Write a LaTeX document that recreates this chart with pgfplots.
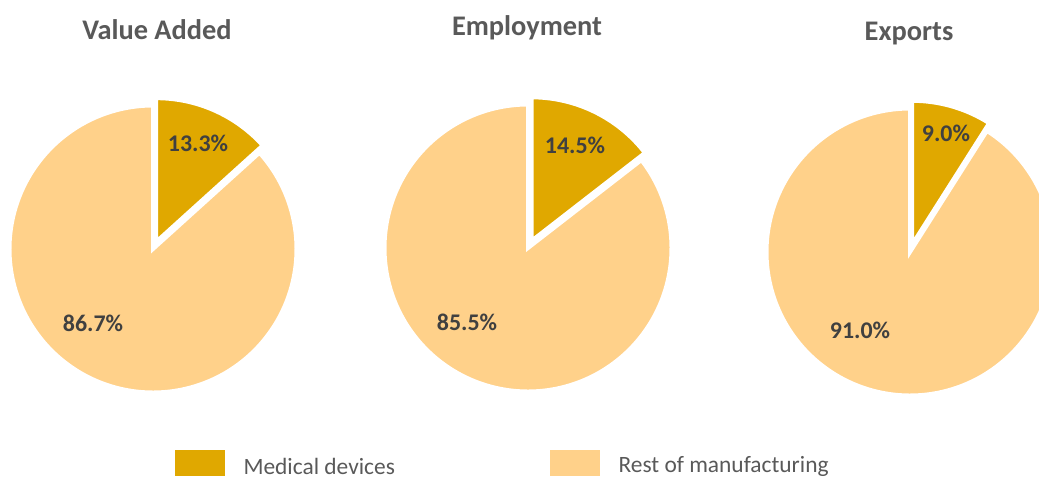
\documentclass[border=0pt]{standalone}
\usepackage{fontspec}
\setmainfont{Carlito}
\usepackage{pgfplots}
\pgfplotsset{compat=1.18}
\definecolor{medc}{HTML}{E0A800}
\definecolor{restc}{HTML}{FFD18A}
\definecolor{titlec}{HTML}{595959}
\definecolor{labc}{HTML}{404040}

% #1 centre x, #2 centre y (pixels, y down), #3 share of medical devices (%), #4 explosion
\newcommand\piechart[4]{%
  \pgfmathsetmacro\A{90-3.6*#3}%
  \pgfmathsetmacro\B{90-1.8*#3}%
  \pgfmathsetmacro\ox{#1+#4*cos(\B)}%
  \pgfmathsetmacro\oy{#2-#4*sin(\B)}%
  \edef\temp{%
    \noexpand\addplot[fill=restc, draw=white, line width=4, domain=-270:\A, samples=240]
      ({#1+143.5*cos(x)},{#2-143.5*sin(x)}) -- (axis cs:#1,#2) -- cycle;
    \noexpand\addplot[fill=medc, draw=white, line width=4, domain=\A:90, samples=60]
      ({\ox+143.5*cos(x)},{\oy-143.5*sin(x)}) -- (axis cs:\ox,\oy) -- cycle;
  }\temp}

\begin{document}
\begin{tikzpicture}
\begin{axis}[
    name=pies,
    width=1039bp, height=476bp, scale only axis,
    xmin=0, xmax=1039, ymin=0, ymax=476, y dir=reverse,
    hide axis, clip=true
]
\piechart{153}{249}{13.3}{8}
\piechart{528}{248}{14.5}{8}
\piechart{910}{252}{9.0}{8}

\begin{scope}[font=\fontsize{28.5}{32}\selectfont\bfseries, text=titlec]
\node at (axis cs:157,30) {Value Added};
\node at (axis cs:527,28) {Employment};
\node at (axis cs:909,34) {Exports};
\end{scope}

\begin{scope}[font=\fontsize{24}{28}\selectfont\bfseries, text=labc]
\node at (axis cs:198,143) {13.3\%};
\node at (axis cs:93,323) {86.7\%};
\node at (axis cs:575,145) {14.5\%};
\node at (axis cs:467,322) {85.5\%};
\node at (axis cs:946,133) {9.0\%};
\node at (axis cs:860,330) {91.0\%};
\end{scope}

\fill[medc] (axis cs:175,450) rectangle (axis cs:225,476);
\fill[restc] (axis cs:550,450) rectangle (axis cs:600,476);
\begin{scope}[font=\fontsize{23.5}{27}\selectfont, text=titlec]
\node[anchor=west] at (axis cs:240,466) {Medical devices};
\node[anchor=west] at (axis cs:615,466) {Rest of manufacturing};
\end{scope}
\end{axis}
\pgfresetboundingbox
\path[use as bounding box] (pies.south west) rectangle (pies.north east);
\end{tikzpicture}
\end{document}
